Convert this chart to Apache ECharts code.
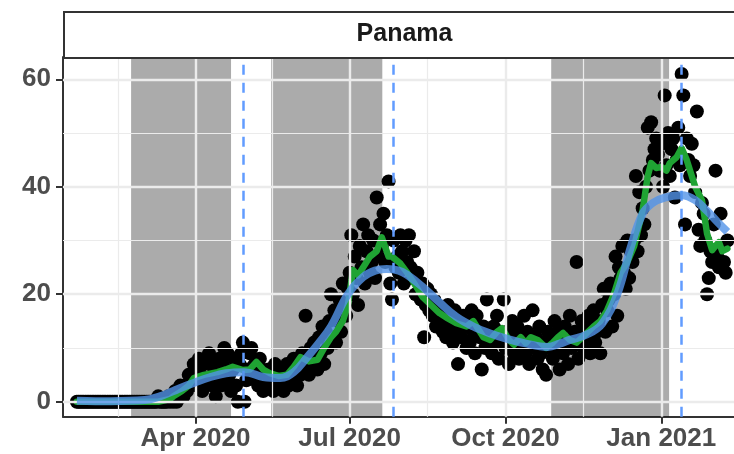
<!DOCTYPE html>
<html>
<head>
<meta charset="utf-8">
<script src="https://cdn.jsdelivr.net/npm/echarts@6/dist/echarts.min.js"></script>
<style>
  html, body { margin: 0; padding: 0; background: #fff; }
  #chart { width: 734px; height: 454px; }
</style>
</head>
<body>
<div id="chart"></div>
<script>
// x values are days counted from 2020-01-22 (day 0)
// daily counts, one per day
const deaths = [
  0,0,0,0,0,0,0,0,0,0,0,0,0,0,0,0,0,0,0,0,0,0,0,0,
  0,0,0,0,0,0,0,0,0,0,0,0,0,0,0,0,0,0,0,0,0,0,0,0,
  1,0,0,0,0,0,1,0,
  1,0,2,0,1,3,2,
  1,3,2,5,3,4,7,
  6,3,8,5,2,7,8,
  4,9,8,3,6,1,5,
  8,3,7,10,4,9,5,
  2,6,8,3,0,7,9,
  11,0,4,6,9,10,5,
  7,4,3,8,6,2,5,
  4,6,3,5,2,7,4,
  5,3,6,2,4,7,3,
  5,4,8,6,3,7,5,
  9,6,16,8,5,10,7,
  11,8,6,12,9,14,7,
  13,10,15,20,12,17,11,
  15,19,13,22,18,16,21,
  24,31,20,27,23,18,29,
  25,33,22,28,31,24,26,
  30,23,38,27,33,29,35,
  26,31,41,22,19,30,25,
  27,24,31,28,22,30,26,
  31,25,23,28,20,24,22,
  19,22,12,18,21,17,20,
  16,19,14,18,15,17,13,
  16,12,18,14,15,11,17,
  13,7,15,12,16,14,10,
  15,11,17,13,9,16,14,
  12,6,14,10,19,11,13,
  9,14,11,16,8,13,12,
  19,10,13,7,12,15,9,
  11,14,8,12,10,16,9,
  13,7,11,17,10,12,8,
  14,9,6,11,5,13,10,
  12,8,15,10,13,6,11,
  9,14,11,7,16,10,12,
  13,26,8,11,15,10,14,
  12,16,9,14,17,11,13,
  15,9,18,21,13,17,19,
  22,14,20,27,16,25,23,
  29,24,21,30,23,28,26,
  30,42,28,39,31,36,33,
  40,51,43,52,45,47,49,
  46,43,48,40,57,44,50,
  42,47,49,38,45,51,44,
  61,57,33,49,45,42,48,
  44,39,54,32,29,37,35,
  30,20,23,28,26,33,43,
  27,25,35,29,26,24,30
];

// rolling average line (green)
const avgDays = [0,48,55,57,62,66,69,75,83,88,92,98,102,106,110,114,119,124,128,132,137,142,146,150,153,157,160,163,166,168,173,177,180,184,186,191,195,198,204,209,214,219,224,230,234,236,240,244,248,251,255,258,262,265,268,272,277,281,284,287,291,295,300,305,309,313,317,321,325,329,332,334,337,339,342,345,348,350,354,357,360,362,365,369,372,375,377,379,381,384];
const avgVals = [0,0,0.5,1,2,3,4.4,5,5.5,6,6.5,5.9,6,7.4,6,5.3,4.8,5,6.5,8.3,7.5,7.8,10,12,13,15,18,24.5,23.5,24.5,27,28,30.6,27,27,25.7,24,22.6,19.5,18,16.5,15.5,14.6,14,15,14,12,11.5,13,13.7,11.5,10.6,12,10.9,12,11.5,10,11,12,12.8,11.5,11,12.5,14,15,17,20,24,26,29,33,35.7,42,44.4,43.5,43.7,43,44.4,45.5,47.2,45,43,40,37.5,31.3,28.2,29,29.7,28,28.5];

// smoothed trend (blue)
const trendDays = [0,20,40,49,57,63,69,78,88,99,110,120,128,136,143,150,160,169,176,183,190,195,204,214,224,234,244,254,264,278,285,291,301,310,319,327,334,340,347,357,365,372,378,384];
const trendVals = [0.2,0.1,0.3,1,2,2.8,3.5,4.5,5.3,5.5,4.6,4.4,5.5,8.3,11,14,20,23.2,24.4,24.7,24.4,23.6,21.4,18.5,15.8,14,12.7,11.7,10.9,10.2,10.8,11.5,12.5,14.5,20,28.8,35,37,38,38.4,37.5,35.5,33.5,31.6];

const tickDays = [70, 161, 253, 345];
const tickLabels = ['Apr 2020', 'Jul 2020', 'Oct 2020', 'Jan 2021'];
const minorDays = [24.5, 115.5, 207, 299, 391];
const yTicks = [0, 20, 40, 60];
const yMinor = [10, 30, 50];
const shadeRanges = [[32, 91], [114.7, 180.3], [280, 349.6]];
const dashDays = [98, 186.8, 357];
const stripTitle = 'Panama';

const chart = echarts.init(document.getElementById('chart'));

const font = '"Liberation Sans", Arial, sans-serif';
const gridLines = [];
tickDays.forEach(d => gridLines.push({ xAxis: d, lineStyle: { width: 2.4 } }));
minorDays.forEach(d => gridLines.push({ xAxis: d, lineStyle: { width: 1.2 } }));
yTicks.forEach(v => gridLines.push({ yAxis: v, lineStyle: { width: 2.4 } }));
yMinor.forEach(v => gridLines.push({ yAxis: v, lineStyle: { width: 1.2 } }));

const option = {
  animation: false,
  grid: { left: 63, top: 57, right: -12, bottom: 37.3, containLabel: false, outerBoundsMode: 'none' },
  xAxis: {
    type: 'value',
    min: -8.2,
    max: 395,
    axisLine: { show: true, onZero: false, lineStyle: { color: '#333', width: 2 } },
    axisTick: { show: true, length: 7, customValues: tickDays, lineStyle: { color: '#333', width: 2 } },
    axisLabel: {
      customValues: tickDays,
      formatter: v => tickLabels[tickDays.indexOf(v)] || '',
      color: '#4d4d4d', fontSize: 26, fontWeight: 'bold', fontFamily: font, margin: 9
    },
    splitLine: { show: false }
  },
  yAxis: {
    type: 'value',
    min: -2.79,
    max: 64.15,
    axisLine: { show: true, onZero: false, lineStyle: { color: '#333', width: 2 } },
    axisTick: { show: true, length: 7, customValues: yTicks, lineStyle: { color: '#333', width: 2 } },
    axisLabel: {
      customValues: yTicks,
      color: '#4d4d4d', fontSize: 26, fontWeight: 'bold', fontFamily: font, margin: 12
    },
    splitLine: { show: false }
  },
  graphic: [
    {
      type: 'rect', left: 63, top: 11, z: 10,
      shape: { width: 700, height: 46 },
      style: { fill: '#fff', stroke: '#333', lineWidth: 2 }
    },
    {
      type: 'text', x: 404.5, y: 34, z: 11,
      style: {
        text: stripTitle, fill: '#1a1a1a', font: 'bold 25px ' + font,
        textAlign: 'center', textVerticalAlign: 'middle'
      }
    }
  ],
  series: [
    {
      // grid lines
      type: 'line', data: [], z: 1, silent: true,
      markLine: {
        silent: true, symbol: 'none', label: { show: false },
        lineStyle: { color: '#ebebeb', type: 'solid' },
        data: gridLines
      }
    },
    {
      // shaded periods
      type: 'line', data: [], z: 2, silent: true,
      markArea: {
        silent: true,
        itemStyle: { color: 'rgba(0,0,0,0.33)' },
        data: shadeRanges.map(r => [{ xAxis: r[0] }, { xAxis: r[1] }])
      }
    },
    {
      type: 'scatter', z: 3, symbolSize: 14,
      itemStyle: { color: '#000', opacity: 1 },
      data: deaths.map((v, i) => [i, v])
    },
    {
      type: 'line', z: 4, symbol: 'none',
      lineStyle: { color: '#1fa333', width: 6.5, cap: 'round', join: 'round' },
      data: avgDays.map((d, i) => [d, avgVals[i]])
    },
    {
      type: 'line', z: 5, symbol: 'none', smooth: 0.4,
      lineStyle: { color: 'rgba(82,148,232,0.8)', width: 8 },
      data: trendDays.map((d, i) => [d, trendVals[i]])
    },
    {
      // dashed markers
      type: 'line', data: [], z: 6, silent: true,
      markLine: {
        silent: true, symbol: 'none', label: { show: false },
        lineStyle: { color: '#619CFF', type: [10, 8], width: 2.5 },
        data: dashDays.map(d => ({ xAxis: d }))
      }
    }
  ]
};

chart.setOption(option);
</script>
</body>
</html>
